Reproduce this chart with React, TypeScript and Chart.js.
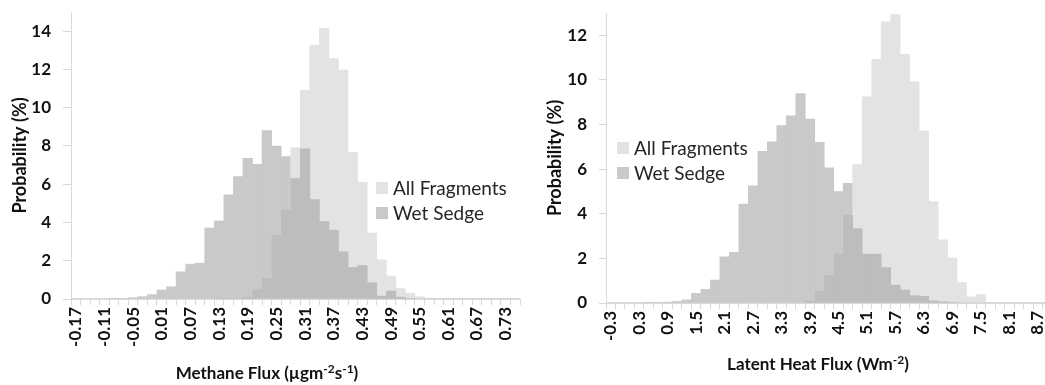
import React, { useEffect, useRef } from "react";
import { Chart, registerables } from "chart.js";

Chart.register(...registerables);

// ---------- data ----------
const methaneBins = [
  "-0.17", "-0.15", "-0.13", "-0.11", "-0.09", "-0.07", "-0.05", "-0.03", "-0.01", "0.01",
  "0.03", "0.05", "0.07", "0.09", "0.11", "0.13", "0.15", "0.17", "0.19", "0.21",
  "0.23", "0.25", "0.27", "0.29", "0.31", "0.33", "0.35", "0.37", "0.39", "0.41",
  "0.43", "0.45", "0.47", "0.49", "0.51", "0.53", "0.55", "0.57", "0.59", "0.61",
  "0.63", "0.65", "0.67", "0.69", "0.71", "0.73", "0.75",
];
const methaneAllFragments = [
  0, 0, 0, 0, 0, 0, 0, 0, 0, 0,
  0, 0, 0, 0, 0, 0.01, 0.02, 0.05, 0.1, 0.5,
  1.08, 3.33, 4.67, 7.9, 10.9, 13.27, 14.15, 12.57, 11.96, 7.67,
  6.1, 3.45, 2.05, 1.2, 0.55, 0.3, 0.12, 0.05, 0.03, 0.02,
  0.02, 0.01, 0.02, 0.01, 0.01, 0.01, 0,
];
const methaneWetSedge = [
  0, 0, 0, 0, 0.01, 0.03, 0.07, 0.12, 0.23, 0.47,
  0.64, 1.42, 1.82, 1.87, 3.71, 4.08, 5.45, 6.4, 7.35, 7.04,
  8.8, 7.99, 7.45, 6.3, 7.85, 5.2, 4.05, 3.6, 2.47, 1.65,
  1.75, 0.85, 0.15, 0.42, 0.1, 0.03, 0, 0, 0, 0,
  0, 0, 0, 0, 0, 0, 0,
];
const methaneYTicks = [0, 2, 4, 6, 8, 10, 12, 14];

const latentBins = [
  "-0.3", "-0.1", "0.1", "0.3", "0.5", "0.7", "0.9", "1.1", "1.3", "1.5",
  "1.7", "1.9", "2.1", "2.3", "2.5", "2.7", "2.9", "3.1", "3.3", "3.5",
  "3.7", "3.9", "4.1", "4.3", "4.5", "4.7", "4.9", "5.1", "5.3", "5.5",
  "5.7", "5.9", "6.1", "6.3", "6.5", "6.7", "6.9", "7.1", "7.3", "7.5",
  "7.7", "7.9", "8.1", "8.3", "8.5", "8.7", "8.9",
];
const latentAllFragments = [
  0, 0, 0, 0, 0, 0, 0, 0, 0, 0,
  0, 0, 0, 0, 0, 0, 0, 0, 0, 0,
  0, 0.1, 0.55, 1.25, 2.22, 3.93, 6.2, 9.24, 10.92, 12.6,
  12.93, 11.15, 9.92, 7.72, 4.55, 2.83, 2.02, 0.92, 0.28, 0.38,
  0.02, 0.01, 0, 0, 0, 0, 0,
];
const latentWetSedge = [
  0, 0, 0, 0, 0.01, 0.02, 0.04, 0.07, 0.14, 0.43,
  0.61, 1.03, 2.07, 2.27, 4.43, 5.25, 6.8, 7.23, 7.95, 8.39,
  9.39, 8.24, 7.2, 6.06, 5.0, 5.37, 3.33, 2.19, 2.19, 1.59,
  0.8, 0.58, 0.33, 0.3, 0.1, 0.05, 0.02, 0, 0, 0,
  0, 0, 0, 0, 0, 0, 0,
];
const latentYTicks = [0, 2, 4, 6, 8, 10, 12];

const seriesNames = ["All Fragments", "Wet Sedge"];

// ---------- style ----------
const LIGHT = "#e3e3e3";
const MID = "#c9c9c9";
const DARK = "#bdbdbd";
const AXIS = "#d9d9d9";
const FONT = "Lato, 'Open Sans', sans-serif";

type Spec = {
  bins: string[];
  all: number[];
  wet: number[];
  yTicks: number[];
  yMax: number;
  padTop: number;
  padRight: number;
  yWidth: number;
  xHeight: number;
  yTickLen: number;
  yTitlePad: number;
};

function buildConfig(s: Spec): any {
  const overlap = s.all.map((v, i) => Math.min(v, s.wet[i]));
  return {
    type: "bar",
    data: {
      labels: s.bins,
      datasets: [
        { label: "overlap", data: overlap, backgroundColor: DARK, order: 0 },
        { label: seriesNames[0], data: s.all, backgroundColor: LIGHT, order: 1 },
        { label: seriesNames[1], data: s.wet, backgroundColor: MID, order: 2 },
      ],
    },
    options: {
      animation: false,
      responsive: false,
      maintainAspectRatio: false,
      layout: { padding: { top: s.padTop, right: s.padRight, bottom: 0, left: 0 } },
      plugins: { legend: { display: false }, tooltip: { enabled: false } },
      datasets: {
        bar: { grouped: false, barPercentage: 1, categoryPercentage: 1, borderWidth: 0 },
      },
      scales: {
        x: {
          type: "category",
          offset: true,
          grid: {
            offset: true,
            drawOnChartArea: false,
            drawTicks: true,
            tickLength: 6,
            color: AXIS,
          },
          border: { color: AXIS },
          ticks: {
            autoSkip: false,
            maxRotation: 90,
            minRotation: 90,
            padding: 2,
            color: "#111",
            font: { family: FONT, size: 17, weight: "bold" },
            callback: (_v: any, i: number) => (i % 3 === 0 ? s.bins[i] : ""),
          },
          afterFit: (sc: any) => {
            sc.height = s.xHeight;
            sc.paddingLeft = 0;
            sc.paddingRight = 0;
          },
        },
        y: {
          min: 0,
          max: s.yMax,
          ticks: {
            stepSize: 2,
            padding: 12,
            color: "#111",
            font: { family: FONT, size: 17, weight: "bold" },
          },
          afterBuildTicks: (sc: any) => {
            sc.ticks = s.yTicks.map((v) => ({ value: v }));
          },
          grid: { drawOnChartArea: false, tickLength: s.yTickLen, color: AXIS },
          border: { color: AXIS },
          title: {
            display: true,
            text: "Probability (%)",
            color: "#111",
            font: { family: FONT, size: 18, weight: "bold" },
            padding: { top: s.yTitlePad, bottom: 0 },
          },
          afterFit: (sc: any) => {
            sc.width = s.yWidth;
            sc.paddingTop = 0;
            sc.paddingBottom = 0;
          },
        },
      },
    },
  };
}

function Legend({ left, top }: { left: number; top: number }) {
  const item = (color: string, text: string, dy: number) => (
    <div
      style={{
        position: "absolute",
        left,
        top: top + dy,
        height: 14,
        display: "flex",
        alignItems: "center",
        fontFamily: FONT,
        fontSize: 19,
        color: "#262626",
        whiteSpace: "nowrap",
      }}
    >
      <span style={{ display: "inline-block", width: 12, height: 12, background: color, marginRight: 5 }} />
      <span style={{ lineHeight: "14px" }}>{text}</span>
    </div>
  );
  return (
    <>
      {item(LIGHT, seriesNames[0], 0)}
      {item(MID, seriesNames[1], 25)}
    </>
  );
}

export default function App() {
  const leftRef = useRef<HTMLCanvasElement>(null);
  const rightRef = useRef<HTMLCanvasElement>(null);

  useEffect(() => {
    const left = new Chart(
      leftRef.current as HTMLCanvasElement,
      buildConfig({
        bins: methaneBins,
        all: methaneAllFragments,
        wet: methaneWetSedge,
        yTicks: methaneYTicks,
        yMax: 15,
        padTop: 12,
        padRight: 10,
        yWidth: 71,
        xHeight: 86,
        yTickLen: 8,
        yTitlePad: 9,
      })
    );
    const right = new Chart(
      rightRef.current as HTMLCanvasElement,
      buildConfig({
        bins: latentBins,
        all: latentAllFragments,
        wet: latentWetSedge,
        yTicks: latentYTicks,
        yMax: 13,
        padTop: 13,
        padRight: 8,
        yWidth: 76,
        xHeight: 82,
        yTickLen: 7,
        yTitlePad: 14,
      })
    );
    return () => {
      left.destroy();
      right.destroy();
    };
  }, []);

  const titleStyle: React.CSSProperties = {
    position: "absolute",
    fontFamily: FONT,
    fontWeight: "bold",
    fontSize: 17,
    color: "#111",
    whiteSpace: "nowrap",
    transform: "translate(-50%, -50%)",
    lineHeight: "20px",
  };
  const sup: React.CSSProperties = { fontSize: 12, verticalAlign: "6px", lineHeight: 0 };

  return (
    <div
      style={{
        position: "absolute",
        left: 0,
        top: 0,
        width: 1045,
        height: 385,
        overflow: "hidden",
        background: "#fff",
      }}
    >
      <canvas
        ref={leftRef}
        width={530}
        height={385}
        style={{ position: "absolute", left: 0, top: 0, width: 530, height: 385 }}
      />
      <canvas
        ref={rightRef}
        width={530}
        height={385}
        style={{ position: "absolute", left: 530, top: 0, width: 530, height: 385 }}
      />
      <Legend left={376} top={181} />
      <Legend left={617} top={141} />
      <div style={{ ...titleStyle, left: 267, top: 373 }}>
        Methane Flux (µgm<span style={sup}>-2</span>s<span style={sup}>-1</span>)
      </div>
      <div style={{ ...titleStyle, left: 818, top: 364 }}>
        Latent Heat Flux (Wm<span style={sup}>-2</span>)
      </div>
    </div>
  );
}
